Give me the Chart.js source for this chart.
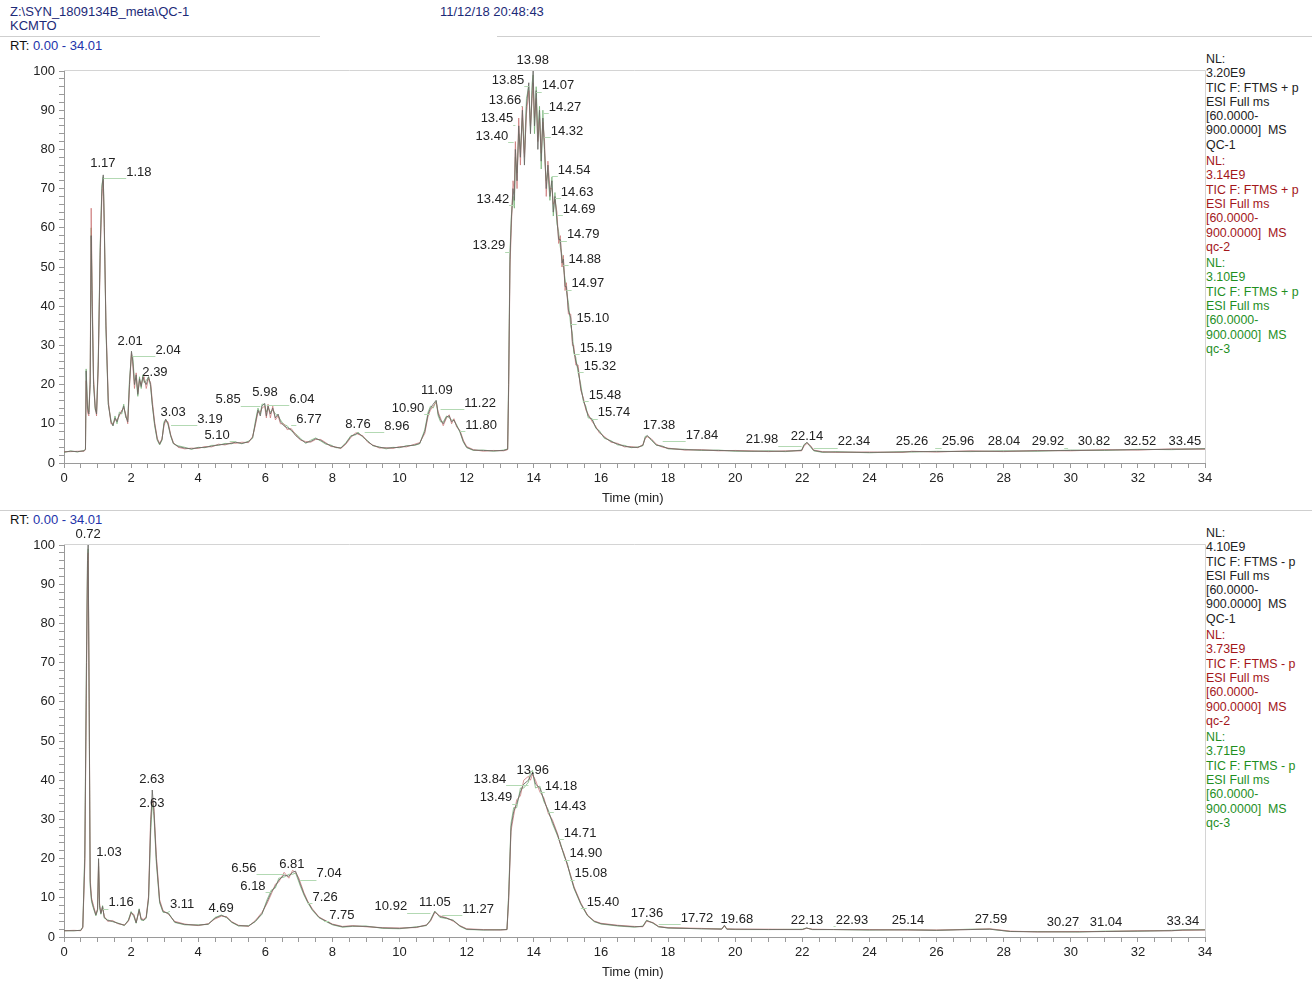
<!DOCTYPE html>
<html lang="en">
<head>
    <meta charset="UTF-8">
    <title>QC-1 TIC</title>
    <script src="https://cdn.jsdelivr.net/npm/chart.js"></script>
    <style>
        * { margin: 0; padding: 0; box-sizing: border-box; }
        body {
            width: 1312px;
            height: 985px;
            background: #fff;
            font-family: 'Liberation Sans', Arial, sans-serif;
            position: relative;
            overflow: hidden;
            color: #222;
        }
        .abs { position: absolute; white-space: nowrap; }
        .hdr { font-size: 13px; color: #1c2a78; line-height: 14px; }
        .rt { font-size: 13px; color: #111; }
        .rt span { color: #2233aa; }
        .hline { position: absolute; height: 1px; background: #cfcfcf; }
        .legend { position: absolute; left: 1206px; font-size: 12.4px; line-height: 14.3px; }
        .legend div { margin-bottom: 2px; }
        .k { color: #222; }
        .r { color: #a3161a; }
        .g { color: #1f8f1f; }
        .xtitle { font-size: 13px; color: #222; }
        canvas { position: absolute; left: 0; }
    </style>
</head>
<body>
    <div class="abs hdr" style="left:10px; top:5px;">Z:\SYN_1809134B_meta\QC-1</div>
    <div class="abs hdr" style="left:10px; top:19px;">KCMTO</div>
    <div class="abs hdr" style="left:440px; top:5px;">11/12/18 20:48:43</div>
    <div class="hline" style="left:0; top:36px; width:320px;"></div>
    <div class="hline" style="left:497px; top:36px; width:815px;"></div>
    <div class="abs rt" style="left:10px; top:38px;">RT: <span>0.00 - 34.01</span></div>

    <div class="legend" style="top:52px;">
        <div class="k">NL:<br>3.20E9<br>TIC F: FTMS + p<br>ESI Full ms<br>[60.0000-<br>900.0000]&nbsp; MS<br>QC-1</div>
        <div class="r">NL:<br>3.14E9<br>TIC F: FTMS + p<br>ESI Full ms<br>[60.0000-<br>900.0000]&nbsp; MS<br>qc-2</div>
        <div class="g">NL:<br>3.10E9<br>TIC F: FTMS + p<br>ESI Full ms<br>[60.0000-<br>900.0000]&nbsp; MS<br>qc-3</div>
    </div>

    <canvas id="posChart" width="1312" height="455" style="top:50px; width:1312px; height:455px;"></canvas>
    <div class="abs xtitle" style="left:602px; top:490px;">Time (min)</div>

    <div class="hline" style="left:0; top:510px; width:1312px;"></div>
    <div class="abs rt" style="left:10px; top:512px;">RT: <span>0.00 - 34.01</span></div>

    <div class="legend" style="top:526px;">
        <div class="k">NL:<br>4.10E9<br>TIC F: FTMS - p<br>ESI Full ms<br>[60.0000-<br>900.0000]&nbsp; MS<br>QC-1</div>
        <div class="r">NL:<br>3.73E9<br>TIC F: FTMS - p<br>ESI Full ms<br>[60.0000-<br>900.0000]&nbsp; MS<br>qc-2</div>
        <div class="g">NL:<br>3.71E9<br>TIC F: FTMS - p<br>ESI Full ms<br>[60.0000-<br>900.0000]&nbsp; MS<br>qc-3</div>
    </div>

    <canvas id="negChart" width="1312" height="460" style="top:525px; width:1312px; height:460px;"></canvas>
    <div class="abs xtitle" style="left:602px; top:964px;">Time (min)</div>

    <script>
        // ---- positive mode (top) : retention time (min) and relative abundance (%)
        const posTime = [0.00,0.20,0.40,0.60,0.64,0.66,0.70,0.74,0.78,0.81,0.84,0.88,0.93,0.97,1.02,1.08,1.13,1.17,1.20,1.25,1.32,1.40,1.46,1.52,1.58,1.65,1.72,1.78,1.84,1.90,1.95,2.01,2.05,2.10,2.15,2.20,2.25,2.30,2.35,2.39,2.45,2.52,2.58,2.63,2.70,2.78,2.85,2.92,2.98,3.03,3.10,3.18,3.26,3.40,3.60,3.80,4.00,4.20,4.40,4.60,4.80,5.00,5.10,5.30,5.50,5.62,5.70,5.78,5.85,5.90,5.98,6.03,6.08,6.15,6.22,6.30,6.38,6.45,6.55,6.65,6.77,6.90,7.05,7.20,7.35,7.50,7.65,7.80,7.95,8.10,8.25,8.40,8.55,8.70,8.76,8.90,9.05,9.20,9.40,9.60,9.80,10.00,10.20,10.45,10.60,10.75,10.85,10.92,11.00,11.09,11.15,11.22,11.30,11.40,11.48,11.55,11.62,11.70,11.80,11.90,12.00,12.20,12.50,12.80,13.10,13.22,13.25,13.29,13.33,13.38,13.42,13.45,13.50,13.55,13.60,13.66,13.72,13.78,13.85,13.90,13.95,13.98,14.02,14.07,14.12,14.17,14.22,14.27,14.32,14.37,14.42,14.48,14.54,14.58,14.63,14.69,14.74,14.79,14.84,14.88,14.93,14.97,15.03,15.10,15.15,15.19,15.25,15.32,15.40,15.48,15.55,15.62,15.74,15.85,15.95,16.10,16.30,16.50,16.70,16.90,17.10,17.25,17.32,17.38,17.50,17.65,17.84,18.00,18.50,19.00,19.50,20.00,20.50,21.00,21.50,21.98,22.05,22.14,22.25,22.34,22.60,23.00,24.00,25.00,25.26,26.00,27.00,28.00,29.00,30.00,31.00,32.00,33.00,34.00];
        const posQC1 = [2.8,3.0,2.9,3.1,3.5,23.5,14,12.5,20,58,40,20,14,12.5,25,55,70,73.5,60,35,15,10.5,9.5,11.5,10.5,12.5,13.0,14.5,12.0,10.5,20,28.5,26,20,22.5,17.5,21.5,19.5,22,21,20,22,20,15,10,6,4.8,6,10,11.2,10,7,5,4.2,3.8,3.6,3.9,4.0,4.3,4.6,4.8,5.0,5.3,5.0,5.4,6.5,10,13.5,12,14.5,15.2,12,14.5,12.5,14,11.5,12.5,10.5,9.5,9,8.5,7,6,5.2,5.5,6.2,5.8,5,4.4,4,3.8,5,6.8,7.4,7.6,6.8,5.5,4.5,4,3.8,3.9,4,4.3,4.6,5,8,12.5,14,15,16,12.5,11,10,11.8,12,10.5,11,9.5,8,5.5,4,3.3,3.2,3.1,3.2,3.5,20,52,62,70,67,80,72,86,78,90,76,91,97,84,95,100,86,95,80,90,77,88,80,70,76,68,72,64,68,62,57,57,51,52,45,45,39,37,31,29,26,24,19,16,14,12,11,9,8,6.5,5.5,4.8,4.3,4.0,4.0,4.5,6.5,7,6,4.6,4.2,3.7,3.4,3.3,3.2,3.1,3.0,3.0,3.0,3.2,4.5,5.3,4.2,3.2,2.8,2.8,2.7,2.8,2.9,2.9,3.0,3.0,3.1,3.2,3.3,3.4,3.5,3.6];
        const posQC2 = [2.9,2.9,3.0,3.0,3.4,21,13,12,22,65,44,22,14.5,12,24,53,68,72,61,36,16,10,10,11,11,12,13.5,14,12.5,10,19,28,25,19,23,18,21,20,21.5,22,19,21.5,20.5,16,10.5,6.3,5,6.2,9.5,10.8,10.5,7.2,5.2,4.0,3.6,3.8,3.7,4.2,4.1,4.8,4.6,5.2,5.0,5.3,5.2,6.8,9.5,13,13,14,14.5,11.5,15,11.5,14.5,11,12,10,10,8.5,8.8,7.3,5.8,5.5,5.3,6.0,6.0,5.2,4.2,4.1,3.7,4.8,6.5,7.8,7.3,7.0,5.3,4.6,3.8,3.9,3.7,4.2,4.1,4.8,5.2,7.5,12,13.5,14.5,15.5,13,11.5,9.5,11.5,12.3,10,11.3,9.2,8.3,5.8,4.2,3.4,3.0,3.2,3.1,3.4,18,50,60,72,69,82,70,88,76,91,78,89,95,86,93,97,88,93,82,88,79,87,82,68,77,70,70,66,67,64,56,58,50,53,44,46,38,38,30,30,25,25,18.5,16.5,13.5,12.5,10.5,9.3,7.7,6.8,5.3,5.0,4.1,4.2,3.9,4.7,6.2,6.7,6.2,4.8,4.0,3.8,3.3,3.4,3.1,3.2,3.1,2.9,3.1,3.1,4.3,5.0,4.4,3.3,2.9,2.7,2.8,2.7,3.0,2.8,3.1,2.9,3.2,3.1,3.4,3.3,3.6,3.5];
        const posQC3 = [2.7,3.1,2.8,3.2,3.6,24,15,13,21,60,42,21,13.5,13,26,56,71,73,62,34,15,11,9.5,12,10,13,12.5,15,11.5,11,21,27.5,27,21,21.5,17,22,19,22.5,20.5,21,22,19.5,15,9.5,5.8,4.6,5.8,10.5,11,9.8,6.8,4.9,4.4,4.0,3.5,4.0,3.9,4.5,4.5,5.0,4.9,5.4,4.9,5.6,6.3,10.5,14,12.5,15,15,13,14,13,13.5,12.5,12,11,9.8,9.5,8.2,7.5,6.3,5.0,5.8,6.4,5.6,4.8,4.6,3.9,3.9,5.2,7,7.2,7.9,6.6,5.7,4.4,4.1,3.6,4.0,3.9,4.4,4.5,4.9,8.5,13,14.5,14,15.8,12,10.5,10.5,12,11.5,11,10.8,9.8,7.8,5.3,3.9,3.2,3.3,3.0,3.3,3.6,22,54,63,68,65,78,74,84,80,88,79,93,96,85,97,99,84,96,84,91,75,90,79,72,74,67,73,63,69,61,59,55,53,50,47,44,41,35,33,28,27,23,20,15.5,14.5,11.5,11.3,8.8,8.3,6.3,5.7,4.6,4.5,3.9,4.1,4.4,6.8,6.9,5.8,4.5,4.3,3.6,3.5,3.2,3.3,3.0,3.0,3.1,2.9,3.3,4.7,5.2,4.0,3.1,2.7,2.9,2.6,2.9,2.8,3.0,2.9,3.1,3.0,3.3,3.2,3.5,3.4,3.7];

        const posLabelText = ['1.17','1.18','2.01','2.04','2.39','3.03','3.19','5.10','5.85','5.98','6.04','6.77','8.76','8.96','10.90','11.09','11.22','11.80','13.29','13.42','13.40','13.45','13.66','13.85','13.98','14.07','14.27','14.32','14.54','14.63','14.69','14.79','14.88','14.97','15.10','15.19','15.32','15.48','15.74','17.38','17.84','21.98','22.14','22.34','25.26','25.96','28.04','29.92','30.82','32.52','33.45'];
        const posLabelX = [1.16,2.23,1.97,3.10,2.71,3.25,4.35,4.56,4.89,5.99,7.09,7.30,8.76,9.92,10.25,11.11,12.40,12.43,12.66,12.78,12.75,12.90,13.14,13.23,13.97,14.72,14.93,14.99,15.20,15.29,15.35,15.47,15.52,15.61,15.76,15.85,15.97,16.12,16.39,17.73,19.01,20.80,22.14,23.54,25.27,26.64,28.01,29.32,30.69,32.06,33.40];
        const posLabelY = [76.3,74.2,30.9,28.8,23.2,13.0,11.2,7.1,16.1,17.9,16.3,11.2,9.9,9.4,14.0,18.4,15.3,9.7,55.4,67.3,83.4,87.8,92.6,97.7,102.6,96.2,90.8,84.7,74.7,69.1,64.8,58.2,52.0,45.7,37.0,29.3,24.7,17.3,12.8,9.7,7.1,5.9,6.9,5.4,5.4,5.4,5.4,5.4,5.6,5.6,5.6];

        // ---- negative mode (bottom)
        const negTime = [0.00,0.30,0.50,0.56,0.62,0.67,0.70,0.72,0.75,0.78,0.82,0.88,0.95,1.00,1.03,1.06,1.10,1.15,1.20,1.30,1.45,1.60,1.80,1.92,2.00,2.08,2.15,2.24,2.30,2.38,2.45,2.52,2.58,2.63,2.68,2.75,2.85,2.95,3.11,3.30,3.60,4.00,4.30,4.50,4.69,4.85,5.00,5.20,5.50,5.70,5.90,6.05,6.18,6.30,6.40,6.56,6.70,6.81,6.90,7.00,7.04,7.15,7.26,7.40,7.60,7.75,8.00,8.30,8.60,9.00,9.50,10.00,10.50,10.80,10.92,11.05,11.20,11.40,11.60,11.80,12.00,12.50,13.00,13.20,13.25,13.32,13.40,13.49,13.60,13.70,13.84,13.90,13.96,14.05,14.18,14.30,14.43,14.55,14.71,14.80,14.90,15.00,15.08,15.20,15.40,15.60,15.80,16.00,16.50,17.00,17.25,17.36,17.55,17.72,18.00,19.00,19.60,19.68,19.75,20.00,21.00,22.00,22.13,22.30,22.93,24.00,25.14,26.00,27.00,27.59,28.20,29.00,30.27,31.04,32.00,33.00,33.34,34.00];
        const negQC1 = [1.6,1.6,1.7,2.5,20,70,96,100,60,14,9.5,7.5,5.6,7,20,8,6,7.8,5,4.2,4.0,3.5,3.0,4.2,6.3,5.5,3.6,7,4.5,4.3,5,10,28,37.5,32,20,9,6.5,6,3.8,3.2,3.0,3.3,4.8,5.5,5,3.8,2.9,2.8,4,6,9,11.5,13,14.5,15.8,15.5,16.5,16.8,14.5,13.5,11,9,7,5,4.3,3.2,2.6,2.8,2.7,2.3,2.2,2.5,3.0,4.2,6.5,5.2,4.8,4.2,2.8,2.0,1.8,1.8,1.9,10,28,32,34,37,39,40,41,42,39,38,35,32,29.5,26,23.5,21,18.5,16,12.5,8.5,5.5,4,3.4,2.9,2.6,2.7,4.2,3.6,2.6,2.3,2.1,2.0,3.0,2.0,2.0,1.9,1.9,2.3,1.9,1.9,1.8,1.8,1.7,1.9,2.0,1.4,1.3,1.3,1.4,1.5,1.6,1.8,1.8];
        const negQC2 = [1.6,1.7,1.6,2.4,18,65,92,98,62,15,10,8,5.8,7.2,19,8.5,6.2,7.4,5.3,4.0,4.2,3.4,3.1,4.0,6.0,5.8,3.8,6.6,4.7,4.5,5.2,10.5,30,35,33,21,9.5,6.8,5.8,4.0,3.3,2.9,3.4,4.6,5.3,5.2,3.9,3.0,2.7,4.2,6.3,8.5,11,13.5,14,16.5,15,17,16.5,15,14,11.3,9.2,7.2,5.1,4.4,3.3,2.7,2.9,2.6,2.4,2.3,2.4,3.1,4.0,6.3,5.4,4.9,4.0,2.9,2.1,1.9,1.8,1.9,9,27,31,35,36,40,41,40,41.5,40,37,35.5,31.5,30,26.3,23.3,21.3,18.2,16.3,12.8,8.7,5.6,4.1,3.5,3.0,2.7,2.6,4.0,3.7,2.7,2.4,2.2,2.0,2.8,2.1,2.0,2.0,1.9,2.2,2.0,1.9,1.9,1.8,1.8,1.9,2.1,1.5,1.3,1.4,1.4,1.6,1.6,1.7,1.8];
        const negQC3 = [1.6,1.6,1.7,2.6,22,72,95,99,58,13,9,7.2,5.4,6.8,18,7.5,5.8,8,4.8,4.4,3.9,3.6,2.9,4.4,6.5,5.2,3.5,7.2,4.3,4.2,4.8,9.5,26,34,31,19,8.7,6.3,6.2,3.7,3.1,3.1,3.2,5.0,5.6,4.9,3.7,2.8,2.9,3.9,5.8,9.5,12,12.5,15,15.3,16,16,16.3,14,13,10.7,8.8,6.8,4.9,4.2,3.1,2.5,2.7,2.8,2.2,2.1,2.6,2.9,4.4,6.6,5.0,4.7,4.3,2.7,1.9,1.8,1.9,1.9,11,29,33,33,38,38,39.5,42,42.5,38,38.5,34.5,32.5,29,25.7,23.8,20.7,18.8,15.8,12.3,8.3,5.4,3.9,3.3,2.8,2.5,2.8,4.3,3.5,2.6,2.3,2.1,2.1,2.9,2.0,1.9,1.9,2.0,2.3,1.9,1.9,1.8,1.9,1.7,2.0,2.0,1.4,1.4,1.3,1.5,1.5,1.7,1.8,1.9];

        const negLabelText = ['0.72','1.03','1.16','2.63','2.63','3.11','4.69','6.56','6.18','6.81','7.04','7.26','7.75','10.92','11.05','11.27','13.84','13.49','13.96','14.18','14.43','14.71','14.90','15.08','15.40','17.36','17.72','19.68','22.13','22.93','25.14','27.59','30.27','31.04','33.34'];
        const negLabelX = [0.72,1.34,1.70,2.62,2.62,3.52,4.68,5.36,5.63,6.79,7.90,7.78,8.28,9.74,11.05,12.34,12.69,12.87,13.97,14.81,15.08,15.38,15.55,15.70,16.06,17.37,18.86,20.05,22.14,23.48,25.15,27.62,29.77,31.05,33.34];
        const negLabelY = [102.6,21.7,8.7,40.3,34.2,8.2,7.4,17.6,13.0,18.4,16.1,10.2,5.6,7.7,8.9,7.1,40.3,35.5,42.6,38.5,33.4,26.5,21.2,16.1,8.9,5.9,4.8,4.6,4.3,4.3,4.3,4.6,3.8,3.8,4.1];

        const xTicksShown = [0,2,4,6,8,10,12,14,16,18,20,22,24,26,28,30,32,34];
        const yTicksShown = [0,10,20,30,40,50,60,70,80,90,100];

        const FONT = "'Liberation Sans', Arial, sans-serif";
        Chart.defaults.font.family = FONT;
        Chart.defaults.color = '#222';

        function toPoints(times, vals) {
            return times.map((t, i) => ({ x: t, y: vals[i] }));
        }

        // peak retention time labels with the thin green leader lines
        function peakPlugin(texts, xs, ys) {
            return {
                id: 'peakLabels',
                afterDatasetsDraw(chart) {
                    const ctx = chart.ctx;
                    const sx = chart.scales.x, sy = chart.scales.y;
                    ctx.save();
                    ctx.font = '13px ' + FONT;
                    ctx.textAlign = 'center';
                    ctx.textBaseline = 'middle';
                    texts.forEach((txt, i) => {
                        const rt = parseFloat(txt);
                        const cx = sx.getPixelForValue(xs[i]);
                        const cy = sy.getPixelForValue(ys[i]);
                        const w = ctx.measureText(txt).width;
                        const px = sx.getPixelForValue(rt);
                        if (Math.abs(px - cx) > w / 2) {
                            ctx.strokeStyle = '#b3d9b3';
                            ctx.lineWidth = 1;
                            ctx.beginPath();
                            const ly = Math.round(cy + 6) + 0.5;
                            if (px < cx) { ctx.moveTo(px, ly); ctx.lineTo(cx - w / 2, ly); }
                            else { ctx.moveTo(cx + w / 2, ly); ctx.lineTo(px, ly); }
                            ctx.stroke();
                        }
                        ctx.fillStyle = '#222';
                        ctx.fillText(txt, cx, cy);
                    });
                    ctx.restore();
                }
            };
        }

        const framePlugin = {
            id: 'frame',
            afterDraw(chart) {
                const a = chart.chartArea, ctx = chart.ctx;
                ctx.save();
                ctx.strokeStyle = '#d4d4d4';
                ctx.lineWidth = 1;
                ctx.beginPath();
                ctx.moveTo(a.left, Math.round(a.top) - 0.5);
                ctx.lineTo(a.right + 0.5, Math.round(a.top) - 0.5);
                ctx.lineTo(a.right + 0.5, a.bottom);
                ctx.stroke();
                ctx.restore();
            }
        };

        function makeChart(id, times, q1, q2, q3, texts, xs, ys, padTop, xHeight) {
            const ctx = document.getElementById(id).getContext('2d');
            return new Chart(ctx, {
                type: 'line',
                data: {
                    datasets: [
                        { label: 'QC-1', data: toPoints(times, q1), borderColor: 'rgba(105,105,100,0.85)', borderWidth: 1, order: 1 },
                        { label: 'qc-2', data: toPoints(times, q2), borderColor: 'rgba(200,110,110,0.7)', borderWidth: 1, order: 2 },
                        { label: 'qc-3', data: toPoints(times, q3), borderColor: 'rgba(110,175,110,0.7)', borderWidth: 1, order: 3 }
                    ]
                },
                options: {
                    responsive: false,
                    animation: false,
                    layout: { padding: { top: padTop, right: 107, left: 0, bottom: 0 } },
                    elements: { point: { radius: 0 }, line: { tension: 0 } },
                    plugins: { legend: { display: false }, tooltip: { enabled: false } },
                    scales: {
                        x: {
                            type: 'linear', min: 0, max: 34,
                            afterFit: s => { s.height = xHeight; },
                            afterBuildTicks: s => {
                                const t = [];
                                for (let v = 0; v <= 68; v++) t.push({ value: v / 2 });
                                s.ticks = t;
                            },
                            ticks: {
                                autoSkip: false, maxRotation: 0, padding: 3,
                                font: { size: 13 }, color: '#222',
                                callback: v => xTicksShown.includes(v) ? String(v) : ''
                            },
                            grid: { drawOnChartArea: false, tickLength: 5, color: '#9a9a9a' },
                            border: { color: '#9a9a9a' }
                        },
                        y: {
                            min: 0, max: 100,
                            afterFit: s => { s.width = 64; },
                            afterBuildTicks: s => {
                                const t = [];
                                for (let v = 0; v <= 100; v += 2) t.push({ value: v });
                                s.ticks = t;
                            },
                            ticks: {
                                autoSkip: false, padding: 4,
                                font: { size: 13 }, color: '#222',
                                callback: v => yTicksShown.includes(v) ? String(v) : ''
                            },
                            grid: { drawOnChartArea: false, tickLength: 5, color: '#9a9a9a' },
                            border: { color: '#9a9a9a' }
                        }
                    }
                },
                plugins: [framePlugin, peakPlugin(texts, xs, ys)]
            });
        }

        makeChart('posChart', posTime, posQC1, posQC2, posQC3, posLabelText, posLabelX, posLabelY, 21, 42);
        makeChart('negChart', negTime, negQC1, negQC2, negQC3, negLabelText, negLabelX, negLabelY, 20, 48);
    </script>
</body>
</html>
